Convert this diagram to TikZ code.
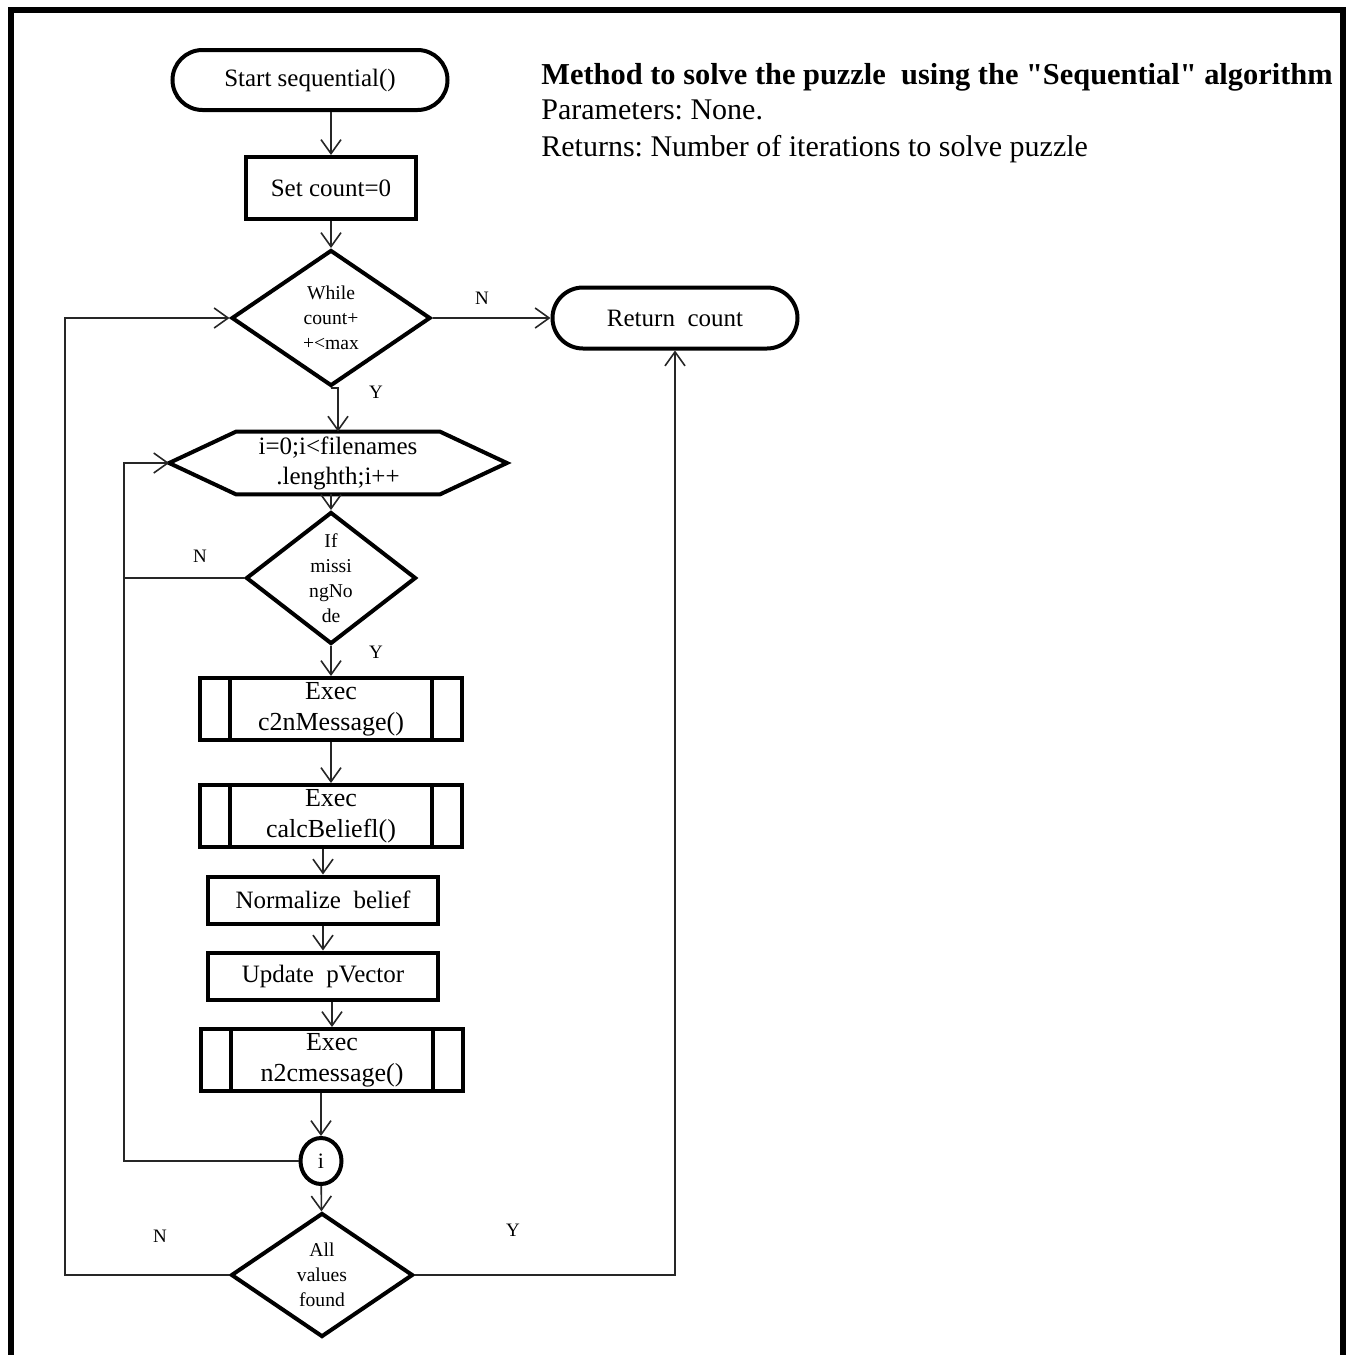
\documentclass[tikz,border=0pt]{standalone}
\usepackage{fontspec}
\setmainfont{Liberation Serif}
\usetikzlibrary{arrows.meta,shapes.geometric,shapes.misc}
\frenchspacing

\tikzset{
  shapeline/.style={draw=black,line width=2pt,fill=white,inner sep=0pt,align=center},
  terminal/.style={shapeline,rounded rectangle,font=\fontsize{12.5}{15}\selectfont},
  procbox/.style={shapeline,rectangle,font=\fontsize{12.5}{15}\selectfont},
  subproc/.style={shapeline,rectangle,minimum width=131pt,minimum height=31pt,font=\fontsize{13}{15.5}\selectfont},
  decision/.style={shapeline,diamond,font=\fontsize{9.8}{12.4}\selectfont},
  flow/.style={draw=black!85,line width=0.8pt,-{Straight Barb[length=7pt,width=10pt,line width=0.8pt]}},
  link/.style={draw=black!85,line width=0.8pt},
  yn/.style={font=\fontsize{9.5}{11}\selectfont,inner sep=0pt},
  heading/.style={anchor=base west,inner sep=0pt,font=\fontsize{15}{18}\selectfont}
}

\begin{document}
\begin{tikzpicture}[x=0.5pt,y=-0.5pt]
\useasboundingbox (0,0) rectangle (1351,1355);

% outer frame
\draw[line width=3pt] (11,1360) -- (11,10) -- (1343,10) -- (1343,1360);

% description
\node[heading,font=\bfseries\fontsize{15.2}{18}\selectfont] (title) at (541,84)
  {Method to solve the puzzle\ \ using the \textquotedbl Sequential\textquotedbl\ algorithm};
\node[heading] (params) at (541,119) {Parameters: None.};
\node[heading] (returns) at (541,156) {Returns: Number of iterations to solve puzzle};

% nodes
\node[terminal,minimum width=137.5pt,minimum height=30pt] (start) at (310,80) {Start sequential()};
\node[procbox,minimum width=85pt,minimum height=31pt] (set) at (331,188) {Set count=0};
\node[decision,minimum width=99.5pt,minimum height=68pt] (while) at (331,318) {While\\count+\\+<max};
\node[terminal,minimum width=122.5pt,minimum height=30.5pt] (ret) at (675,318) {Return\ \ count};

\node[inner sep=0pt,minimum width=168.5pt,minimum height=31pt,align=center,
      font=\fontsize{12.5}{15}\selectfont] (hex) at (338,463) {i=0;i<filenames\\.lenghth;i++};
\draw[line width=2pt,line join=miter]
  (hex.west) -- ([xshift=33.5pt]hex.north west) -- ([xshift=-33.5pt]hex.north east)
  -- (hex.east) -- ([xshift=-33.5pt]hex.south east) -- ([xshift=33.5pt]hex.south west) -- cycle;

\node[decision,minimum width=85pt,minimum height=53.5pt] (ifm) at (331,578) {If\\missi\\ngNo\\de};
\node[subproc] (c2n) at (331,709) {Exec\\c2nMessage()};
\node[subproc] (calc) at (331,816) {Exec\\calcBeliefl()};
\node[procbox,minimum width=115pt,minimum height=23.5pt] (norm) at (323,900) {Normalize\ \ belief};
\node[procbox,minimum width=115pt,minimum height=23.5pt] (upd) at (323,976) {Update\ \ pVector};
\node[subproc] (n2c) at (332,1060) {Exec\\n2cmessage()};
\node[shapeline,ellipse,minimum width=20.5pt,minimum height=23pt,font=\fontsize{11}{13}\selectfont] (loopi) at (321,1161) {i};
\node[decision,minimum width=91pt,minimum height=62pt] (found) at (322,1275) {All\\values\\found};

% side bars of the predefined-process boxes
\foreach \n in {c2n,calc,n2c} {
  \draw[line width=2pt] ([xshift=16pt]\n.north west) -- ([xshift=16pt]\n.south west);
  \draw[line width=2pt] ([xshift=-16pt]\n.north east) -- ([xshift=-16pt]\n.south east);
}

% loop anchor points
\coordinate (inner) at (124,463);
\coordinate (outer) at (65,318);

% main flow
\draw[flow] (start.south -| set.north) -- (set.north);
\draw[flow] (set) -- (while);
\draw[flow] (while.south) -- (hex.north |- while.south) -- (hex.north);
\draw[flow] (hex.south -| ifm.north) -- (ifm.north);
\draw[flow] (ifm) -- (c2n);
\draw[flow] (c2n) -- (calc);
\draw[flow] (calc.south -| norm.north) -- (norm.north);
\draw[flow] (norm) -- (upd);
\draw[flow] (upd.south -| n2c.north) -- (n2c.north);
\draw[flow] (n2c.south -| loopi.north) -- (loopi.north);
\draw[flow] (loopi) -- (found);
\draw[flow] (while) -- (ret);

% inner loop back to the for-header
\draw[link] (ifm.west) -- (ifm.west -| inner);
\draw[flow] (loopi.west) -| (inner) -- (hex.west);

% outer loop and exit
\draw[flow] (found.west) -| (outer) -- (while.west);
\draw[flow] (found.east) -| (ret.south);

% branch labels
\node[yn] (lwn) at (482,298) {N};
\node[yn] (lwy) at (376,392) {Y};
\node[yn] (lin) at (200,556) {N};
\node[yn] (liy) at (376,652) {Y};
\node[yn] (lan) at (160,1236) {N};
\node[yn] (lay) at (513,1230) {Y};
\end{tikzpicture}
\end{document}
